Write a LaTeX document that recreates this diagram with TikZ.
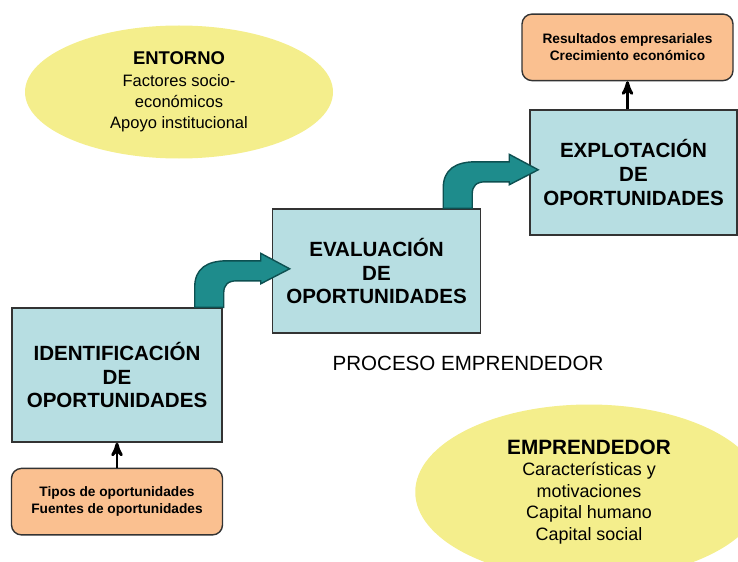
\documentclass[tikz,border=0pt]{standalone}
\usepackage{fontspec}
\setmainfont{Liberation Sans}
\usepackage{tikz}
\usetikzlibrary{calc,positioning,arrows,shapes.geometric}
\definecolor{boxblue}{HTML}{B7DEE2}
\definecolor{boxorange}{HTML}{FAC090}
\definecolor{elliyellow}{HTML}{F4EE8C}
\definecolor{teal1}{HTML}{1E8C8C}
\definecolor{teal2}{HTML}{0D5051}
\tikzset{
>=stealth',
  etapa/.style={
    rectangle,
    fill=boxblue,
    draw=black!80, thick,
    minimum width=4.2cm,
    minimum height=2.5cm,
    align=center,
    font=\bfseries\fontsize{11.7}{13.6}\selectfont},
  resultado/.style={
    rectangle,
    rounded corners=0.2cm,
    fill=boxorange,
    draw=black!80, thick,
    minimum width=4.22cm,
    minimum height=1.33cm,
    align=center,
    font=\bfseries\fontsize{7.8}{9.6}\selectfont},
  nube/.style={
    ellipse,
    fill=elliyellow,
    align=center,
    font=\fontsize{9.4}{12.2}\selectfont},
  line/.style={draw, line width=1.6pt, ->},
  giro/.pic={
    \draw[fill=teal1, draw=teal2, thick] (0,0) -- (0,0.4)
      .. controls (0,0.78) and (0.25,0.93) .. (0.65,0.93) -- (1.32,0.93)
      -- (1.32,1.08) -- (1.9,0.77) -- (1.32,0.47) -- (1.32,0.53) -- (0.85,0.53)
      .. controls (0.66,0.53) and (0.58,0.45) .. (0.58,0.28) -- (0.58,0) -- cycle;
  },
}
\begin{document}
\begin{tikzpicture}[node distance=.5cm]
		\useasboundingbox (0,0) rectangle (14.76,11.22);
		\clip (0,0) rectangle (14.76,11.22);
		\node[nube, minimum width=6.16cm, minimum height=2.66cm] (entorno) at (3.58,9.38)
			{{\bfseries\fontsize{10.5}{12.2}\selectfont ENTORNO}\\Factores socio-\\económicos\\Apoyo institucional};
		\node[nube, minimum width=6.95cm, minimum height=3.5cm, font=\fontsize{10.2}{12.2}\selectfont] (emprendedor) at (11.78,1.38)
			{{\bfseries\fontsize{11.8}{12.2}\selectfont EMPRENDEDOR}\\Características y\\motivaciones\\Capital humano\\Capital social};
		\node[etapa, minimum height=2.68cm] (identificacion) at (2.34,3.72) {IDENTIFICACIÓN\\DE\\OPORTUNIDADES};
		\node[etapa, minimum width=4.16cm, minimum height=2.48cm] (evaluacion) at (7.53,5.8) {EVALUACIÓN\\DE\\OPORTUNIDADES};
		\node[etapa, minimum width=4.14cm] (explotacion) at (12.67,7.77) {EXPLOTACIÓN\\DE\\OPORTUNIDADES};
		\node[resultado, below=0.5cm of identificacion] (tipos) {Tipos de oportunidades\\Fuentes de oportunidades};
		\node[resultado, above=0.56cm of explotacion, xshift=-0.12cm] (resultados) {Resultados empresariales\\Crecimiento económico};
		\node[font=\fontsize{11.7}{13.6}\selectfont] (proceso) at (9.36,3.96) {PROCESO EMPRENDEDOR};
		% flechas
		\path[line] (tipos) -- (identificacion);
		\path[line] (explotacion.north -| resultados) -- (resultados);
		\pic at ($(identificacion.north east)+(-0.56,0)$) {giro};
		\pic at ($(evaluacion.north east)+(-0.76,0)$) {giro};
	\end{tikzpicture}
\end{document}
